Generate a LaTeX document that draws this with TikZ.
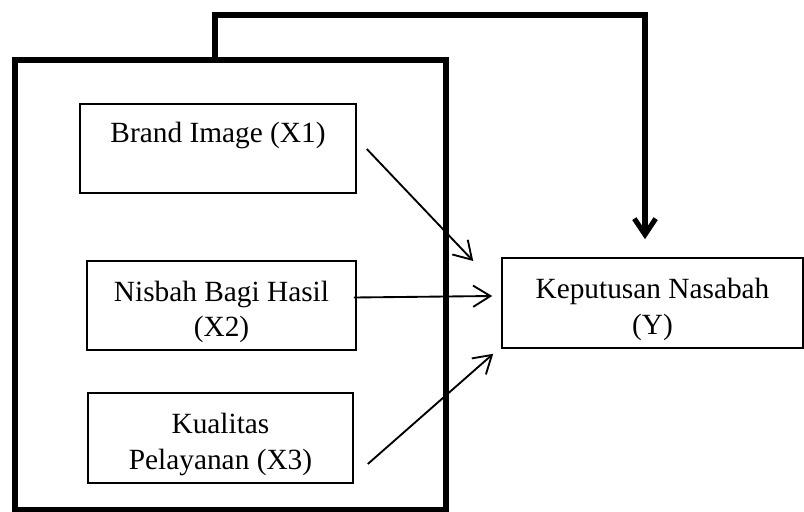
\documentclass[tikz,border=0pt]{standalone}
\usepackage{fontspec}
\setmainfont{Liberation Serif}
\usetikzlibrary{arrows.meta,calc,shadows}
\newcommand\firststrut{\rule{0pt}{25pt}}
\begin{document}
\begin{tikzpicture}[x=0.75pt,y=-0.75pt,
  softshadow/.style={drop shadow={shadow xshift=1pt,shadow yshift=-1pt,opacity=0.3,fill=black}},
  varbox/.style={draw,line width=1.2pt,fill=white,softshadow,rectangle,inner sep=0pt,align=center,
    font=\fontsize{22}{26.5}\selectfont},
  thickline/.style={line width=3.8pt},
  thinarrow/.style={line width=1.4pt,-{Straight Barb[length=13pt,width=16pt]}},
  bigarrow/.style={thickline,-{Straight Barb[length=12pt,width=16pt]}}]
\useasboundingbox (0,0) rectangle (804,511);
% outer frame
\node[draw,thickline,fill=white,softshadow,rectangle,inner sep=0pt,outer sep=0pt,
  minimum width=323.25pt,minimum height=337.1pt] (frame) at (230.5,284.75) {};
% variable boxes
\node[varbox,minimum width=207pt,minimum height=66.75pt] (x1) at (218,148.5) {\firststrut Brand Image (X1)\\\strut};
\node[varbox,minimum width=201.75pt,minimum height=66.75pt] (x2) at (221.5,305.5) {\firststrut Nisbah Bagi Hasil\\(X2)};
\node[varbox,minimum width=198.75pt,minimum height=67.5pt] (x3) at (220.5,438) {\firststrut Kualitas\\Pelayanan (X3)};
\node[varbox,minimum width=225.75pt,minimum height=67.5pt] (y) at (652.5,303) {\firststrut Keputusan Nasabah\\(Y)};
% top feedback connector
\coordinate (bend) at (645,15);
\draw[bigarrow] ($(frame.north west)+(200,0)$) |- (bend) -- ($(y.north)+(-7.5,-18)$);
% thin arrows
\draw[thinarrow] ($(x1.east)+(10,0.5)$) -- ($(y.west)+(-28,-42)$);
\draw[thinarrow] ($(x2.east)+(-3,-8)$) -- ($(y.west)+(-9,-7)$);
\draw[thinarrow] ($(x3.east)+(14,26)$) -- ($(y.south west)+(-8,5)$);
\end{tikzpicture}
\end{document}
